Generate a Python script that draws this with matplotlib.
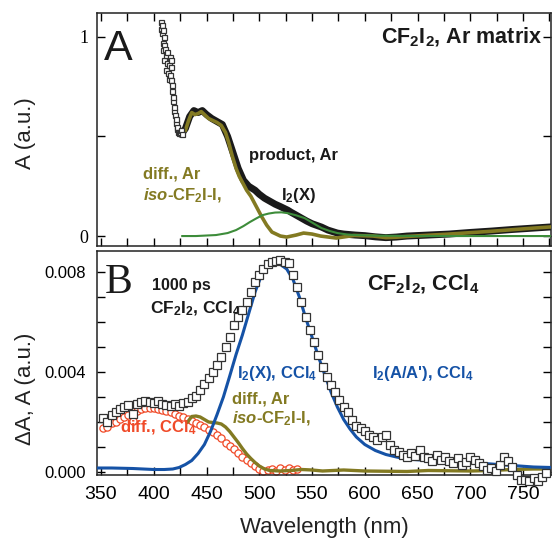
import matplotlib
matplotlib.use("Agg")
import matplotlib.pyplot as plt
from matplotlib.ticker import MultipleLocator

plt.rcParams['font.family'] = ['Liberation Sans', 'DejaVu Sans']
plt.rcParams['mathtext.fontset'] = 'custom'
plt.rcParams['mathtext.rm'] = 'Liberation Sans'
plt.rcParams['mathtext.bf'] = 'Liberation Sans:bold'
plt.rcParams['mathtext.it'] = 'Liberation Sans:italic:bold'

# ---------------- Panel A data (Ar matrix) ----------------
a_sq_wl = [406.5, 407.0, 407.5, 408.0, 408.5, 409.0, 409.4, 408.5, 410.0, 410.0, 410.6,
           411.3, 412.0, 412.5, 413.0, 413.5, 414.0, 414.5, 415.0, 415.5, 416.0, 416.0,
           416.5, 417.0, 417.5, 418.0, 418.5, 419.0, 419.5, 420.0, 420.8, 421.3, 421.7,
           422.2, 422.6, 423.5, 424.5, 425.5, 426.4]
a_sq_val = [1.04, 1.075, 1.06, 1.02, 1.035, 0.97, 1.0, 0.935, 0.96, 0.885, 0.94,
            0.91, 0.835, 0.87, 0.925, 0.82, 0.86, 0.79, 0.81, 0.9, 0.885, 0.784,
            0.85, 0.73, 0.76, 0.68, 0.70, 0.63, 0.65, 0.61, 0.57, 0.59, 0.54,
            0.55, 0.52, 0.515, 0.52, 0.53, 0.51]

a_prod_wl = [426, 430, 434, 438, 442, 446, 450, 455, 460, 465, 470, 475, 480, 485, 490,
             496, 500, 505, 510, 515, 520, 527, 530, 535, 540, 545, 550, 559, 565, 574,
             580, 591, 600, 610, 620, 630, 640, 660, 680, 700, 720, 740, 760, 777]
a_prod_val = [0.51, 0.54, 0.60, 0.63, 0.62, 0.63, 0.61, 0.59, 0.575, 0.56, 0.50, 0.42, 0.34,
              0.28, 0.25, 0.23, 0.21, 0.19, 0.175, 0.16, 0.148, 0.13, 0.12, 0.105, 0.09,
              0.075, 0.062, 0.045, 0.03, 0.015, 0.01, 0.005, 0.002, -0.004, -0.008,
              -0.005, 0.0, 0.005, 0.01, 0.018, 0.025, 0.033, 0.04, 0.046]

a_diff_wl = [427, 430, 433, 436, 439, 442, 445, 448, 452, 456, 460, 464, 468, 471, 474.5,
             478, 481, 484, 488, 492, 497, 502, 507, 512, 520, 526, 535, 542, 550, 558,
             573, 590, 608, 620, 630, 640, 660, 680, 700, 720, 740, 760, 777]
a_diff_val = [0.51, 0.53, 0.58, 0.62, 0.61, 0.615, 0.625, 0.61, 0.59, 0.58, 0.57, 0.555,
              0.52, 0.47, 0.40, 0.34, 0.30, 0.27, 0.23, 0.20, 0.15, 0.10, 0.055, 0.02,
              0.0, -0.005, 0.005, 0.015, 0.01, 0.0, -0.01, 0.003, 0.0, -0.008, -0.006,
              -0.002, 0.004, 0.01, 0.017, 0.024, 0.032, 0.04, 0.046]

a_i2_wl = [427, 440, 459, 470, 478, 485, 491, 497, 503, 509, 515, 521, 527, 535, 543,
           550, 559, 567, 574, 583, 591, 610, 650, 700, 777]
a_i2_val = [0.0, 0.0, 0.005, 0.015, 0.03, 0.05, 0.07, 0.088, 0.105, 0.113, 0.118, 0.119,
            0.115, 0.104, 0.09, 0.068, 0.04, 0.025, 0.015, 0.008, 0.005, 0.002, 0.0, 0.0, 0.0]

# ---------------- Panel B data (CCl4) ----------------
b_sq_wl = list(range(352, 776, 4))
b_sq_val = [0.00216, 0.00200, 0.00228, 0.00240, 0.00252, 0.00262, 0.00268, 0.00232,
            0.00272, 0.00280, 0.00284, 0.00282, 0.00278, 0.00284, 0.00274, 0.00270,
            0.00264, 0.00272, 0.00266, 0.00276, 0.00282, 0.00296, 0.00306, 0.00330,
            0.00352, 0.00378, 0.00400, 0.00430, 0.00462, 0.00500, 0.00540, 0.00590,
            0.00620, 0.00650, 0.00680, 0.00720, 0.00760, 0.00790, 0.00812, 0.00832,
            0.00842, 0.00846, 0.00850, 0.00842, 0.00836, 0.00790, 0.00740, 0.00680,
            0.00620, 0.00570, 0.00520, 0.00470, 0.00420, 0.00380, 0.00350, 0.00320,
            0.00290, 0.00262, 0.00240, 0.00210, 0.00186, 0.00176, 0.00164, 0.00150,
            0.00142, 0.00130, 0.00140, 0.00150, 0.00110, 0.00090, 0.00080, 0.00070,
            0.00060, 0.00078, 0.00065, 0.00090, 0.00060, 0.00055, 0.00045, 0.00070,
            0.00050, 0.00060, 0.00045, 0.00035, 0.00055, 0.00030, 0.00040, 0.00060,
            0.00050, 0.00035, 0.00025, 0.00010, 0.00015, 0.00005, 0.00030, 0.00060,
            0.00045, 0.00020, -0.00010, -0.00030, -0.00030, -0.00035, -0.00025,
            -0.00035, -0.00020, -0.00005]

b_red_wl = list(range(352, 540, 4))
b_red_val = [0.00176, 0.00180, 0.00196, 0.00200, 0.00214, 0.00222, 0.00228, 0.00205,
             0.00246, 0.00252, 0.00256, 0.00258, 0.00256, 0.00254, 0.00250, 0.00244,
             0.00240, 0.00232, 0.00226, 0.00220, 0.00214, 0.00206, 0.00198, 0.00190,
             0.00180, 0.00170, 0.00160, 0.00148, 0.00136, 0.00118, 0.00104, 0.00092,
             0.00076, 0.00062, 0.00050, 0.00036, 0.00026, 0.00012, 0.00004, 0.00008,
             0.00014, 0.00006, 0.00016, 0.00010, 0.00018, 0.00008, 0.00012]

b_diff_wl = [432, 436, 440, 444, 448, 452, 456, 460, 464, 468, 472, 476, 480, 484, 488,
             492, 496, 500, 505, 510, 520, 530, 540, 550, 560, 570, 580, 590, 600, 620,
             640, 660, 680, 700, 720, 740, 760, 777]
b_diff_val = [0.00200, 0.00222, 0.00224, 0.00220, 0.00210, 0.00200, 0.00198, 0.00196,
              0.00192, 0.00180, 0.00162, 0.00140, 0.00118, 0.00094, 0.00072, 0.00054,
              0.00038, 0.00024, 0.00012, 0.00006, 0.00004, 0.00006, 0.00010, 0.00008,
              0.00004, 0.00006, 0.00008, 0.00006, 0.00004, 0.00003, 0.00002, 0.00006,
              0.00005, 0.00004, 0.00006, 0.00010, 0.00012, 0.00012]

b_blue_wl = [346, 360, 380, 400, 410, 418, 424, 430, 436, 442, 448, 454, 460, 466, 472,
             478, 484, 490, 496, 502, 508, 512, 516, 520, 526, 532, 538, 544, 550, 556,
             562, 568, 574, 580, 586, 592, 600, 610, 620, 630, 640, 660, 680, 700, 720,
             740, 760, 777]
b_blue_val = [0.00016, 0.00016, 0.00014, 0.00010, 0.00010, 0.00012, 0.00018, 0.00030,
              0.00046, 0.00074, 0.00110, 0.00164, 0.00230, 0.00300, 0.00384, 0.00470,
              0.00548, 0.00634, 0.00720, 0.00786, 0.00826, 0.00838, 0.00838, 0.00830,
              0.00812, 0.00770, 0.00700, 0.00616, 0.00540, 0.00462, 0.00390, 0.00320,
              0.00260, 0.00210, 0.00172, 0.00140, 0.00110, 0.00086, 0.00070, 0.00060,
              0.00052, 0.00046, 0.00042, 0.00038, 0.00032, 0.00026, 0.00020, 0.00018]

x_ticks = [350, 400, 450, 500, 550, 600, 650, 700, 750]

BLACK = '#1a1a1a'
OLIVE = '#837a22'
GREEN = '#3d8c3a'
BLUE = '#1552a6'
RED = '#f04a28'

W, H = 552, 540
fig = plt.figure(figsize=(W / 100, H / 100), dpi=100)

def px_axes(l, t, r, b):
    return fig.add_axes([l / W, 1 - b / H, (r - l) / W, (b - t) / H])

axA = px_axes(97, 13, 551, 246)
axB = px_axes(97, 251, 551, 475)

XLIM = (346.2, 776.5)

for ax in (axA, axB):
    ax.set_xlim(*XLIM)
    ax.xaxis.set_major_locator(MultipleLocator(50))
    ax.xaxis.set_minor_locator(MultipleLocator(25))
    for s in ax.spines.values():
        s.set_linewidth(1.1)
        s.set_color('#222222')

# ---- Panel A ----
axA.plot(a_prod_wl, a_prod_val, color=BLACK, lw=5.0, solid_capstyle='round', zorder=2)
axA.plot(a_diff_wl, a_diff_val, color=OLIVE, lw=2.6, zorder=3)
axA.plot(a_i2_wl, a_i2_val, color=GREEN, lw=1.5, zorder=4)
axA.plot(a_sq_wl, a_sq_val, ls='none', marker='s', ms=3.6, mfc='white', mec='#333333',
         mew=0.9, zorder=5)
axA.set_ylim(-0.05, 1.12)
axA.set_yticks([0, 1])
axA.set_yticklabels(['0', '1'], fontfamily='Liberation Serif', fontsize=13)
axA.yaxis.set_minor_locator(MultipleLocator(0.5))
axA.tick_params(axis='both', which='both', direction='in', top=True, right=True,
                labelbottom=False, width=1.0)
axA.tick_params(axis='both', which='major', length=6, pad=6)
axA.tick_params(axis='both', which='minor', length=6)

axA.text(352.5, 0.885, 'A', fontsize=31, ha='left', va='baseline', color=BLACK)
axA.text(768, 0.965, r'CF$_\mathbf{2}$I$_\mathbf{2}$, Ar matrix', fontsize=15.5,
         fontweight='bold', ha='right', va='baseline', color=BLACK)
axA.text(490.5, 0.38, 'product, Ar', fontsize=12, fontweight='bold', ha='left',
         va='baseline', color=BLACK)
axA.text(520.5, 0.18, r'I$_\mathbf{2}$(X)', fontsize=12, fontweight='bold', ha='left',
         va='baseline', color=BLACK)
axA.text(389.5, 0.29, 'diff., Ar', fontsize=12, fontweight='bold', ha='left',
         va='baseline', color=OLIVE)
axA.text(389.5, 0.18, r'$\mathit{iso}$-CF$_\mathbf{2}$I-I,', fontsize=12,
         fontweight='bold', ha='left', va='baseline', color=OLIVE)

# ---- Panel B ----
axB.plot(b_red_wl, b_red_val, ls='none', marker='o', ms=5.2, mfc='white', mec=RED,
         mew=0.9, zorder=2)
axB.plot(b_diff_wl, b_diff_val, color=OLIVE, lw=2.4, zorder=3)
axB.plot(b_blue_wl, b_blue_val, color=BLUE, lw=2.2, zorder=4)
axB.plot(b_sq_wl, b_sq_val, ls='none', marker='s', ms=6.0, mfc='white', mec='#333333',
         mew=0.9, zorder=5, clip_on=False)
axB.set_ylim(-0.00012, 0.00884)
axB.set_yticks([0.0, 0.004, 0.008])
axB.set_yticklabels(['0.000', '0.004', '0.008'], fontsize=12)
axB.yaxis.set_minor_locator(MultipleLocator(0.001))
axB.set_xticks(x_ticks)
axB.set_xticklabels([str(v) for v in x_ticks], fontsize=14)
axB.tick_params(axis='both', which='both', direction='in', top=False, right=True,
                width=1.0)
axB.tick_params(axis='both', which='major', length=6)
axB.tick_params(axis='both', which='minor', length=6)
axB.tick_params(axis='x', which='major', pad=8)
axB.tick_params(axis='y', which='major', pad=8)

axB.text(353.8, 0.00716, 'B', fontsize=30, fontfamily='Liberation Serif', ha='left',
         va='baseline', color=BLACK)
axB.text(398, 0.00728, '1000 ps', fontsize=11.5, fontweight='bold', ha='left',
         va='baseline', color=BLACK)
axB.text(396, 0.00636, r'CF$_\mathbf{2}$I$_\mathbf{2}$, CCl$_\mathbf{4}$', fontsize=12.5,
         fontweight='bold', ha='left', va='baseline', color=BLACK)
axB.text(602.5, 0.00728, r'CF$_\mathbf{2}$I$_\mathbf{2}$, CCl$_\mathbf{4}$',
         fontsize=15.5, fontweight='bold', ha='left', va='baseline', color=BLACK)
axB.text(479, 0.00376, r'I$_\mathbf{2}$(X), CCl$_\mathbf{4}$', fontsize=12,
         fontweight='bold', ha='left', va='baseline', color=BLUE)
axB.text(606.5, 0.00376, r"I$_\mathbf{2}$(A/A'), CCl$_\mathbf{4}$", fontsize=12,
         fontweight='bold', ha='left', va='baseline', color=BLUE)
axB.text(474.5, 0.00276, 'diff., Ar', fontsize=12, fontweight='bold', ha='left',
         va='baseline', color=OLIVE)
axB.text(474.5, 0.00196, r'$\mathit{iso}$-CF$_\mathbf{2}$I-I,', fontsize=12,
         fontweight='bold', ha='left', va='baseline', color=OLIVE)
axB.text(368, 0.0016, r'diff., CCl$_\mathbf{4}$', fontsize=12, fontweight='bold',
         ha='left', va='baseline', color=RED)

# ---- Axis labels ----
fig.text(26 / W, 1 - 133 / H, 'A (a.u.)', rotation=90, fontsize=16, ha='center',
         va='center', color='#222222')
fig.text(26 / W, 1 - 389 / H, 'ΔA, A (a.u.)', rotation=90, fontsize=16, ha='center',
         va='center', color='#222222')
fig.text(324.5 / W, 1 - 528 / H, 'Wavelength (nm)', fontsize=16, ha='center',
         va='center', color='#222222')

fig.savefig('out.png', dpi=100)
